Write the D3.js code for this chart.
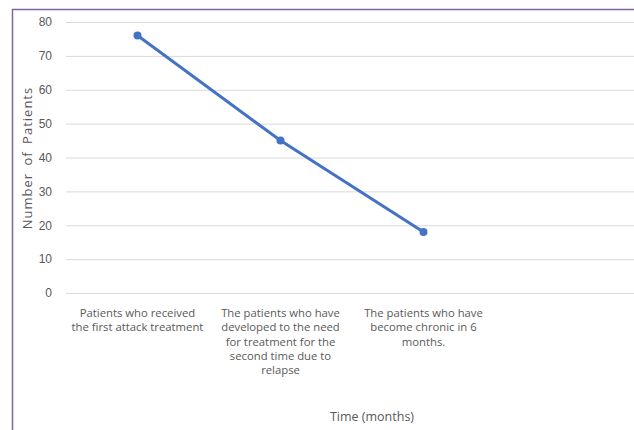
<!DOCTYPE html>
<html>
<head>
<meta charset="utf-8">
<script src="https://cdn.jsdelivr.net/npm/d3@7"></script>
<style>
  html, body { margin: 0; padding: 0; background: #fff; }
  svg { display: block; font-family: "Open Sans", "Noto Sans", sans-serif; }
</style>
</head>
<body>
<svg id="chart" width="634" height="430"></svg>
<script>
// Category labels, one array of text lines per category
const categoryLines = [
  ["Patients who received", "the first attack treatment"],
  ["The patients who have", "developed to the need", "for treatment for the", "second time due to", "relapse"],
  ["The patients who have", "become chronic in 6", "months."]
];
const categories = categoryLines.map(l => l.join(" "));
const patients = [76, 45, 18];
const yTicks = [0, 10, 20, 30, 40, 50, 60, 70, 80];

const svg = d3.select("#chart");
const W = 634, H = 430;
const plot = { left: 66, right: 638, top: 22, bottom: 293 };

// frame around the chart area
svg.append("rect")
  .attr("x", 12.5).attr("y", 9.5)
  .attr("width", W + 20).attr("height", H + 20)
  .attr("fill", "none").attr("stroke", "#8064A2").attr("stroke-width", 1.5);

const y = d3.scaleLinear().domain([0, 80]).range([plot.bottom, plot.top]);
const x = d3.scaleBand()
  .domain([...categories, "__spare"])
  .range([plot.left, plot.right])
  .paddingInner(0).paddingOuter(0);

// horizontal gridlines + value labels
const yAxis = d3.axisLeft(y).tickValues(yTicks).tickSize(-(W - plot.left)).tickPadding(14);
const gy = svg.append("g").attr("transform", `translate(${plot.left},0)`).call(yAxis);
gy.select(".domain").remove();
gy.selectAll(".tick line").attr("stroke", "#d9d9d9").attr("stroke-width", 1);
gy.selectAll(".tick text").attr("fill", "#595959").attr("font-size", 12);

// category labels beneath the plot
const gx = svg.append("g");
categoryLines.forEach((lines, i) => {
  const cx = x(categories[i]) + x.bandwidth() / 2;
  const t = gx.append("text")
    .attr("text-anchor", "middle")
    .attr("fill", "#595959")
    .attr("font-size", 11.3);
  lines.forEach((ln, j) => {
    t.append("tspan").attr("x", cx).attr("y", 317 + j * 14.3).text(ln);
  });
});

// series line and markers
const px = d => x(d) + x.bandwidth() / 2;
const line = d3.line().x((d, i) => px(categories[i])).y(d => y(d));
svg.append("path")
  .datum(patients)
  .attr("d", line)
  .attr("fill", "none")
  .attr("stroke", "#4472C4")
  .attr("stroke-width", 3)
  .attr("stroke-linecap", "round");
svg.selectAll("circle.pt")
  .data(patients)
  .join("circle")
  .attr("class", "pt")
  .attr("cx", (d, i) => px(categories[i]))
  .attr("cy", d => y(d))
  .attr("r", 4)
  .attr("fill", "#4472C4");

// axis titles
svg.append("text")
  .attr("x", 372).attr("y", 421)
  .attr("text-anchor", "middle")
  .attr("fill", "#595959")
  .attr("font-size", 12.5)
  .text("Time (months)");
svg.append("text")
  .attr("transform", "translate(32,158) rotate(-90)")
  .attr("text-anchor", "middle")
  .attr("fill", "#595959")
  .attr("font-size", 13)
  .attr("letter-spacing", 1)
  .attr("word-spacing", 3)
  .text("Number of Patients");
</script>
</body>
</html>
